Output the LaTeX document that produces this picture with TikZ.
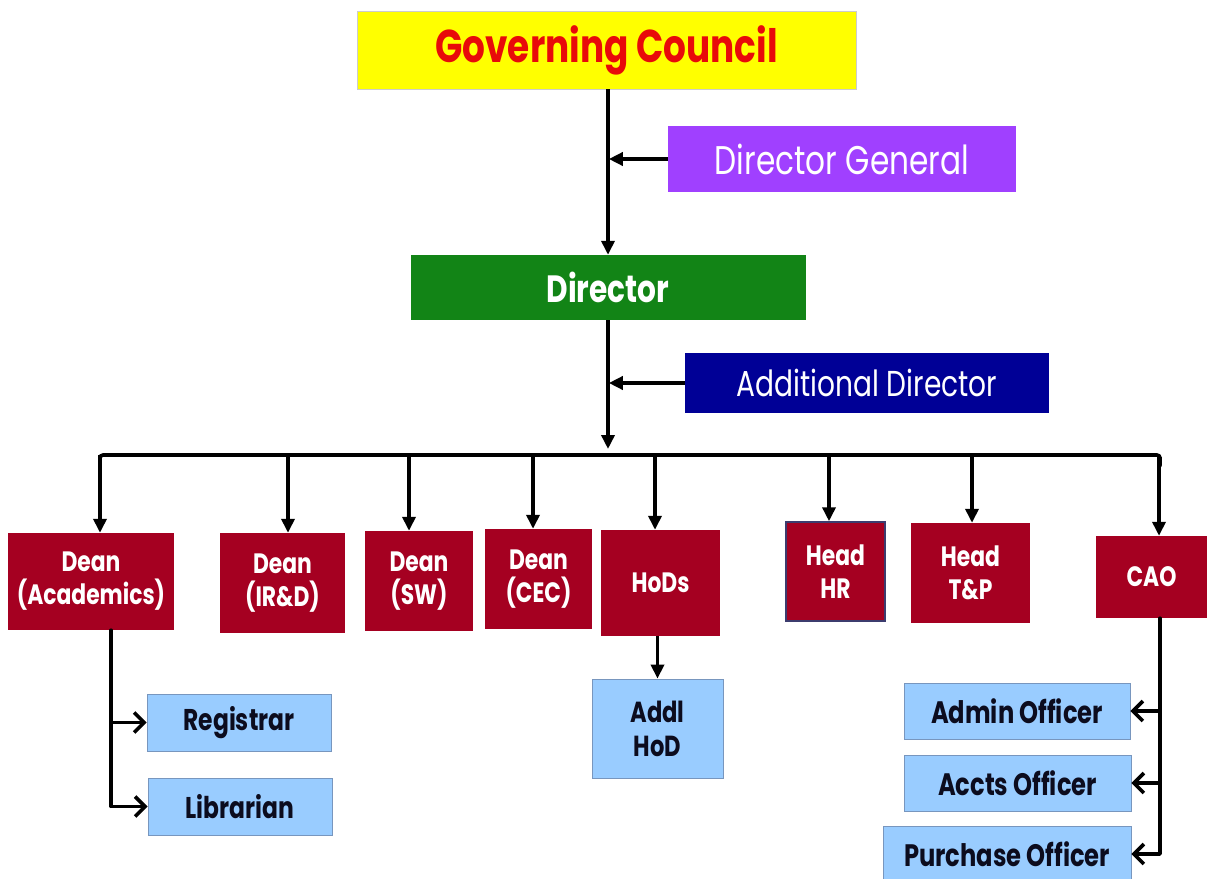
\documentclass[tikz,border=0pt]{standalone}
\usepackage{fontspec}
\newfontfamily\pop[FakeStretch=0.78]{Poppins}
\usetikzlibrary{arrows.meta,calc}
\definecolor{gcyellow}{RGB}{255,255,0}
\definecolor{gcred}{RGB}{232,10,10}
\definecolor{dgpurple}{RGB}{160,64,255}
\definecolor{dirgreen}{RGB}{18,132,22}
\definecolor{addblue}{RGB}{0,0,150}
\definecolor{maroon}{RGB}{165,0,33}
\definecolor{lightblue}{RGB}{153,204,255}
\definecolor{lbborder}{RGB}{120,150,190}
\definecolor{subtext}{RGB}{12,12,30}
\definecolor{hrborder}{RGB}{60,60,110}
\tikzset{
  sz/.style 2 args={minimum width=#1pt,minimum height=#2pt},
  base/.style={inner sep=0pt, align=center},
  gcbox/.style={base, fill=gcyellow, draw=gray!40, line width=0.6pt, text=gcred, font=\pop\fontsize{46}{50}\selectfont\bfseries},
  dgbox/.style={base, fill=dgpurple, text=white, font=\pop\fontsize{40}{44}\selectfont},
  dirbox/.style={base, fill=dirgreen, text=white, font=\pop\fontsize{38}{42}\selectfont\bfseries},
  adbox/.style={base, fill=addblue, text=white, font=\pop\fontsize{36}{40}\selectfont},
  redbox/.style={base, fill=maroon, text=white, font=\pop\fontsize{28}{33}\selectfont\bfseries},
  subbox/.style={base, fill=lightblue, draw=lbborder, line width=0.8pt, text=subtext, font=\pop\fontsize{31}{34}\selectfont\bfseries},
  conn/.style={line width=3.6pt, black},
  mainarr/.style={conn, -{Triangle[length=14pt,width=13pt]}},
  subarr/.style={conn, line cap=round, line join=round, -{Straight Barb[length=10pt,width=20pt]}},
}
\begin{document}
\begin{tikzpicture}[x=1pt,y=-1pt]
\useasboundingbox (0,0) rectangle (1207,878);
\fill[white] (0,0) rectangle (1207,878);
\clip (0,0) rectangle (1207,878);

% top level
\node[gcbox, sz={499}{78}] (GC) at (606.5,50) {Governing Council};
\node[dgbox, sz={348}{66}] (DG) at (842,159) {Director General};
\node[dirbox, sz={395}{65}] (DIR) at (608,287.5) {Director};
\node[adbox, sz={364}{60}] (AD) at (867,383) {Additional Director};

% second level
\node[redbox, sz={166}{97}] (DA) at (91,581.5) {Dean\\(Academics)};
\node[redbox, sz={125}{100}] (DIRD) at (282.5,583) {Dean\\(IR\&D)};
\node[redbox, sz={108}{100}] (DSW) at (419,581) {Dean\\(SW)};
\node[redbox, sz={107}{100}] (DCEC) at (538.5,579) {Dean\\(CEC)};
\node[redbox, sz={119}{106}] (HOD) at (660.5,583) {HoDs};
\node[redbox, sz={99}{99}, draw=hrborder, line width=1.5pt] (HR) at (835.5,571.5) {Head\\HR};
\node[redbox, sz={119}{100}] (TP) at (970.5,573) {Head\\T\&P};
\node[redbox, sz={111}{82}] (CAO) at (1151.5,577) {CAO};

% third level
\node[subbox, sz={184}{57}, font=\pop\fontsize{30}{34}\selectfont\bfseries] (REG) at (239,722.5) {Registrar};
\node[subbox, sz={184}{57}, font=\pop\fontsize{30}{34}\selectfont\bfseries] (LIB) at (240,806.5) {Librarian};
\node[subbox, sz={131}{99}, font=\pop\fontsize{29}{34}\selectfont\bfseries] (AHOD) at (657.5,728.5) {Addl\\HoD};
\node[subbox, sz={226}{56}] (ADM) at (1017,711) {Admin Officer};
\node[subbox, sz={227}{56}] (ACC) at (1017.5,783) {Accts Officer};
\node[subbox, sz={248}{56}] (PUR) at (1007,854) {Purchase Officer};

% spine
\coordinate (spine) at (608,0);
\draw[mainarr] (spine |- GC.south) -- (spine |- DIR.north);
\draw[mainarr, shorten >=-1pt] (DG.west) -- ($(DG.west -| spine)+(1.8,0)$);
\coordinate (barL) at (100,455);
\coordinate (barR) at (1160,455);
\draw[mainarr, shorten >=6pt] (spine |- DIR.south) -- (spine |- barL);
\draw[mainarr, shorten >=-1pt] (AD.west) -- ($(AD.west -| spine)+(1.8,0)$);

% bar
\draw[conn, rounded corners=3pt] ($(barL)+(0,1.8)$) -- (barL) -- (barR) -- ($(barR)+(0,1.8)$);
\foreach \xx/\nn in {100/DA, 288/DIRD, 409/DSW, 533/DCEC, 655/HOD, 829/HR, 972/TP, 1159/CAO}{
  \coordinate (d\nn) at (\xx,455);
  \draw[mainarr] (d\nn) -- (d\nn |- \nn.north);
}

% Dean academics subtree
\coordinate (aLine) at (111,0);
\draw[subarr] (aLine |- DA.south) -- (aLine |- LIB.west) -- (LIB.west);
\draw[subarr] (aLine |- REG.west) -- (REG.west);

% HoD subtree
\draw[mainarr] (AHOD.north |- HOD.south) -- (AHOD.north);

% CAO subtree
\coordinate (cLine) at (1160,0);
\draw[subarr] (cLine |- CAO.south) -- (cLine |- PUR.east) -- (PUR.east);
\draw[subarr] (cLine |- ADM.east) -- (ADM.east);
\draw[subarr] (cLine |- ACC.east) -- (ACC.east);
\end{tikzpicture}
\end{document}
